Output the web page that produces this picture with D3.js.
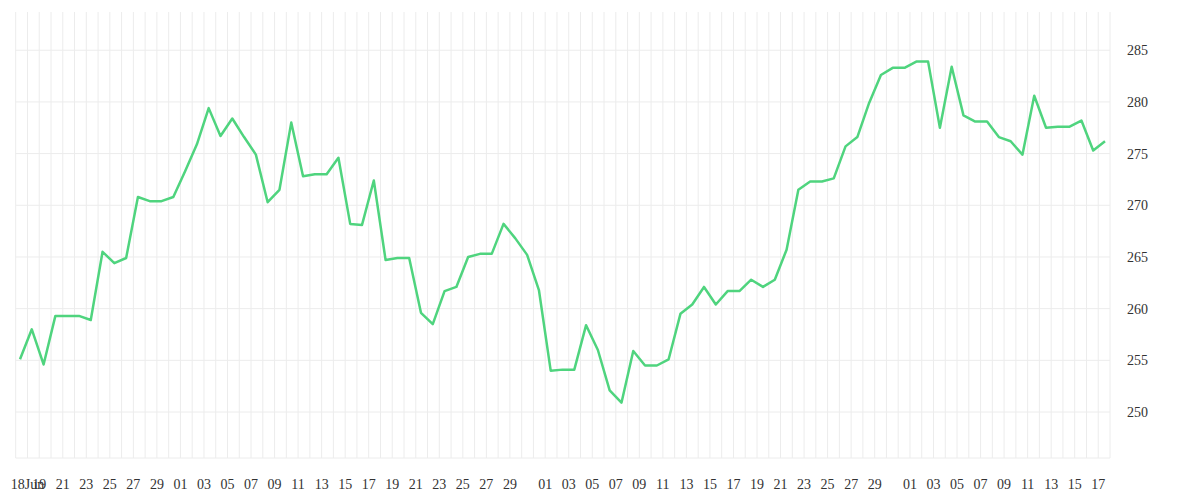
<!DOCTYPE html>
<html><head><meta charset="utf-8">
<script src="https://cdn.jsdelivr.net/npm/d3@7"></script>
<style>body{margin:0;background:#fff}</style></head>
<body><svg id="c" width="1200" height="500"></svg>
<script>
const startDate = "2021-06-18";
const values = [255.1,258.0,254.6,259.3,259.3,259.3,258.9,265.5,264.4,264.9,
270.8,270.4,270.4,270.8,273.3,275.9,279.4,276.7,278.4,276.6,
274.9,270.3,271.5,278.0,272.8,273.0,273.0,274.6,268.2,268.1,
272.4,264.7,264.9,264.9,259.6,258.5,261.7,262.1,265.0,265.3,
265.3,268.2,266.8,265.2,261.8,254.0,254.1,254.1,258.4,256.0,
252.1,250.9,255.9,254.5,254.5,255.1,259.5,260.4,262.1,260.4,
261.7,261.7,262.8,262.1,262.8,265.7,271.5,272.3,272.3,272.6,
275.7,276.6,279.9,282.6,283.3,283.3,283.9,283.9,277.5,283.4,
278.7,278.1,278.1,276.6,276.2,274.9,280.6,277.5,277.6,277.6,
278.2,275.3,276.2];
const yTicks = [250,255,260,265,270,275,280,285];

const svg = d3.select("#c");
const parse = d3.timeParse("%Y-%m-%d");
const d0 = parse(startDate);
const gStart = d3.timeDay.offset(d0,-1);
const gEnd = d3.timeDay.offset(d0, values.length-1);

const xAxis = d3.scaleTime().domain([gStart, gEnd]).range([15.7, 1110]);
const xPt = d3.scalePoint().domain(d3.range(values.length)).range([20, 1105]);
const y = d3.scaleLinear().domain([245.55, 288.7]).range([458, 12]);
const grid = "#ececec";

const days = d3.timeDay.range(gStart, d3.timeDay.offset(gEnd,1));
svg.append("g").selectAll("line").data(days).join("line")
  .attr("x1", d=>xAxis(d)).attr("x2", d=>xAxis(d))
  .attr("y1", 12).attr("y2", 458).attr("stroke", grid);
svg.append("g").selectAll("line").data(yTicks).join("line")
  .attr("x1", 15.7).attr("x2", 1110).attr("y1", d=>y(d)).attr("y2", d=>y(d)).attr("stroke", grid);
svg.append("line").attr("x1",15.7).attr("x2",1110).attr("y1",458).attr("y2",458).attr("stroke",grid);

const font = "'Liberation Serif', serif";
const labDays = days.filter(d=> +d===+d0 || (d > d0 && d < gEnd && d.getDate()%2===1 && d.getDate()!==31));
svg.append("g").selectAll("text").data(labDays).join("text")
  .attr("x", d=>xAxis(d)).attr("y", 489).attr("text-anchor","middle")
  .attr("font-family", font).attr("font-size", 14).attr("fill","#333")
  .text(d=> +d===+d0 ? d3.timeFormat("%d%b")(d) : d3.timeFormat("%d")(d));

svg.append("g").selectAll("text").data(yTicks).join("text")
  .attr("x", 1127).attr("y", d=>y(d)).attr("dy","0.35em")
  .attr("font-family", font).attr("font-size", 14).attr("fill","#333")
  .text(d=>d);

svg.append("path").datum(values)
  .attr("d", d3.line().x((d,i)=>xPt(i)).y(d=>y(d)))
  .attr("fill","none").attr("stroke","#4fd47e").attr("stroke-width",2.5)
  .attr("stroke-linejoin","round");
</script></body></html>
